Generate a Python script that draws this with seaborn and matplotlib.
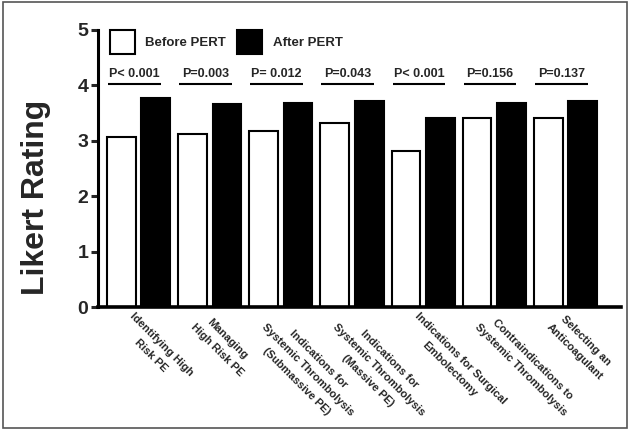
import matplotlib
matplotlib.use("Agg")
import matplotlib.pyplot as plt
import matplotlib.transforms as mtransforms
import pandas as pd
import seaborn as sns
from matplotlib.patches import Rectangle

# Survey items (x categories), mean Likert ratings before / after PERT.
categories = [
    "Identifying High\nRisk PE",
    "Managing\nHigh Risk PE",
    "Indications for\nSystemic Thrombolysis\n(Submassive PE)",
    "Indications for\nSystemic Thrombolysis\n(Massive PE)",
    "Indications for Surgical\nEmbolectomy",
    "Contraindications to\nSystemic Thrombolysis",
    "Selecting an\nAnticoagulant",
]
before = [3.06, 3.12, 3.18, 3.33, 2.82, 3.42, 3.41]
after = [3.78, 3.66, 3.68, 3.72, 3.41, 3.68, 3.72]
p_values = ["P< 0.001", "P=0.003", "P= 0.012", "P=0.043",
            "P< 0.001", "P=0.156", "P=0.137"]
series = ["Before PERT", "After PERT"]

df = pd.DataFrame({
    "item": categories * 2,
    "rating": before + after,
    "when": [series[0]] * len(before) + [series[1]] * len(after),
})

sns.set_style("white")
plt.rcParams["font.family"] = ["Liberation Sans", "DejaVu Sans"]

fig = plt.figure(figsize=(6.3, 4.3), dpi=100)
ax = fig.add_axes([98 / 630, 1 - 307 / 430, 523 / 630, 277 / 430])

sns.barplot(data=df, x="item", y="rating", hue="when",
            order=categories, hue_order=series,
            palette=["white", "black"], saturation=1,
            edgecolor="black", linewidth=1.5,
            width=0.97, gap=0.17, ax=ax)

ax.set_ylim(0, 5)
ax.set_xlim(-0.57, 6.78)
ax.set_yticks(range(6))
ax.set_xlabel("")
ax.set_ylabel("")

# Spines: only left and bottom, thick.
for side in ["top", "right"]:
    ax.spines[side].set_visible(False)
ax.spines["left"].set_linewidth(2.2)
ax.spines["bottom"].set_linewidth(2.6)
ax.spines["left"].set_color("black")
ax.spines["bottom"].set_color("black")

ax.tick_params(axis="y", left=True, length=5, width=2.2, pad=2,
               labelsize=14)
for lbl in ax.get_yticklabels():
    lbl.set_fontweight("bold")

ax.tick_params(axis="x", bottom=False, length=0, pad=3)
ax.set_xticks(range(len(categories)))
ax.set_xticklabels(categories, rotation=-45, ha="left", va="top",
                   rotation_mode="anchor", fontsize=8, fontweight="bold",
                   multialignment="center", linespacing=1.7)
shift = mtransforms.ScaledTranslation(-3 / 100, 0, fig.dpi_scale_trans)
for lbl in ax.get_xticklabels():
    lbl.set_transform(lbl.get_transform() + shift)

# P-value annotations above each pair.
for i, p in enumerate(p_values):
    ax.plot([i - 0.43, i + 0.31], [4.03, 4.03], color="black", lw=1.5,
            solid_capstyle="butt")
    ax.text(i - 0.06, 4.21, p, ha="center", va="center", fontsize=9,
            fontweight="bold")

# Legend
handles = [Rectangle((0, 0), 1, 1, facecolor="white", edgecolor="black", lw=1.5),
           Rectangle((0, 0), 1, 1, facecolor="black", edgecolor="black", lw=1.5)]
ax.legend(handles, series, ncol=2, loc="upper left",
          bbox_to_anchor=(0.022, 1.0), frameon=False,
          handlelength=1.9, handleheight=2.45, handletextpad=0.77,
          columnspacing=0.9, borderaxespad=0, borderpad=0,
          prop={"weight": "bold", "size": 9.5})

fig.text(36 / 630, 1 - 197 / 430, "Likert Rating", rotation=90,
         fontsize=23, fontweight="bold", ha="center", va="center")

# Outer frame around the whole figure.
fig.add_artist(Rectangle((0.004, 0.005), 0.992, 0.99,
                         transform=fig.transFigure, fill=False,
                         edgecolor="#555555", lw=1.2))

fig.savefig("out.png", dpi=100)
